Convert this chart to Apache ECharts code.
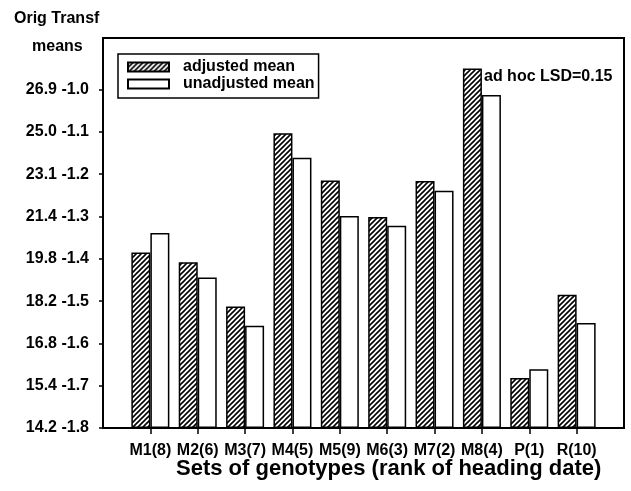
<!doctype html>
<html>
<head>
<meta charset="UTF-8">
<title>Sets of genotypes</title>
<script src="https://cdn.jsdelivr.net/npm/echarts@6/dist/echarts.min.js"></script>
<style>
  html, body { margin: 0; padding: 0; background: #fff; }
  #main { width: 631px; height: 491px; }
</style>
</head>
<body>
<div id="main"></div>
<script>
// data (transformed scale)
var categories = ['M1(8)', 'M2(6)', 'M3(7)', 'M4(5)', 'M5(9)', 'M6(3)', 'M7(2)', 'M8(4)', 'P(1)', 'R(10)'];
var adjustedMean = [-1.385, -1.408, -1.513, -1.103, -1.215, -1.301, -1.216, -0.950, -1.682, -1.485];
var unadjustedMean = [-1.339, -1.444, -1.558, -1.161, -1.299, -1.322, -1.239, -1.013, -1.661, -1.552];
var transfTicks = [-1.8, -1.7, -1.6, -1.5, -1.4, -1.3, -1.2, -1.1, -1.0];
var origTicks = ['14.2', '15.4', '16.8', '18.2', '19.8', '21.4', '23.1', '25.0', '26.9'];

var FONT = "'Liberation Sans', Arial, sans-serif";

// hatch pattern for the adjusted bars
function hatch() {
    var c = document.createElement('canvas');
    c.width = 5; c.height = 5;
    var g = c.getContext('2d');
    g.fillStyle = '#fff';
    g.fillRect(0, 0, 5, 5);
    g.strokeStyle = '#000';
    g.lineWidth = 1.6;
    g.beginPath();
    g.moveTo(0, 5); g.lineTo(5, 0);
    g.moveTo(-1, 1); g.lineTo(1, -1);
    g.moveTo(4, 6); g.lineTo(6, 4);
    g.stroke();
    return c;
}

// empty slot at each end so the categories sit one step in from the frame
var xCats = [''].concat(categories, ['']);
function pad(arr) { return ['-'].concat(arr, ['-']); }

var myChart = echarts.init(document.getElementById('main'));

option = {
    animation: false,
    grid: {
        left: 103, right: 7, top: 38, bottom: 63,
        show: true, borderColor: '#000', borderWidth: 2, backgroundColor: 'transparent'
    },
    legend: {
        orient: 'vertical',
        left: 118, top: 54,
        padding: [5, 4, 6, 9],
        itemGap: 1,
        icon: 'rect',
        itemWidth: 41, itemHeight: 9,
        borderColor: '#000', borderWidth: 1.5,
        textStyle: { fontFamily: FONT, fontWeight: 'bold', fontSize: 16, color: '#000', padding: [0, 0, 0, 9] },
        data: ['adjusted mean', 'unadjusted mean']
    },
    xAxis: {
        type: 'category',
        data: xCats,
        boundaryGap: false,
        axisLine: { lineStyle: { color: '#000', width: 2 } },
        axisTick: {
            length: 6,
            lineStyle: { color: '#000', width: 1.5 },
            interval: function (i) { return i >= 1 && i <= categories.length; }
        },
        axisLabel: {
            interval: 0, margin: 15,
            fontFamily: FONT, fontWeight: 'bold', fontSize: 16, color: '#000'
        },
        splitLine: { show: false }
    },
    yAxis: {
        type: 'value',
        min: -1.8, max: -0.878,
        startValue: -1.8,
        axisLine: { show: true, lineStyle: { color: '#000', width: 2 } },
        axisTick: { show: true, length: 4, customValues: transfTicks, lineStyle: { color: '#000', width: 1.5 } },
        axisLabel: {
            customValues: transfTicks,
            margin: 14,
            fontFamily: FONT, fontWeight: 'bold', fontSize: 16, color: '#000',
            formatter: function (v) {
                for (var i = 0; i < transfTicks.length; i++) {
                    if (Math.abs(transfTicks[i] - v) < 1e-6) return origTicks[i] + ' ' + transfTicks[i].toFixed(1);
                }
                return '';
            }
        },
        splitLine: { show: false }
    },
    graphic: [
        { type: 'text', left: 14, top: 11, style: { text: 'Orig Transf', fontFamily: FONT, fontWeight: 'bold', fontSize: 16, fill: '#000' } },
        { type: 'text', left: 32, top: 39, style: { text: 'means', fontFamily: FONT, fontWeight: 'bold', fontSize: 16, fill: '#000' } },
        { type: 'text', left: 484, top: 69, style: { text: 'ad hoc LSD=0.15', fontFamily: FONT, fontWeight: 'bold', fontSize: 16, fill: '#000' } },
        { type: 'text', left: 176, top: 458, style: { text: 'Sets of genotypes (rank of heading date)', fontFamily: FONT, fontWeight: 'bold', fontSize: 22, fill: '#000' } }
    ],
    series: [
        {
            name: 'adjusted mean',
            type: 'bar',
            barWidth: 19,
            barGap: '0%',
            data: pad(adjustedMean),
            itemStyle: { color: { image: hatch(), repeat: 'repeat' }, borderColor: '#000', borderWidth: 1.5 }
        },
        {
            name: 'unadjusted mean',
            type: 'bar',
            barWidth: 19,
            data: pad(unadjustedMean),
            itemStyle: { color: '#fff', borderColor: '#000', borderWidth: 1.5 }
        }
    ]
};

myChart.setOption(option);
</script>
</body>
</html>
